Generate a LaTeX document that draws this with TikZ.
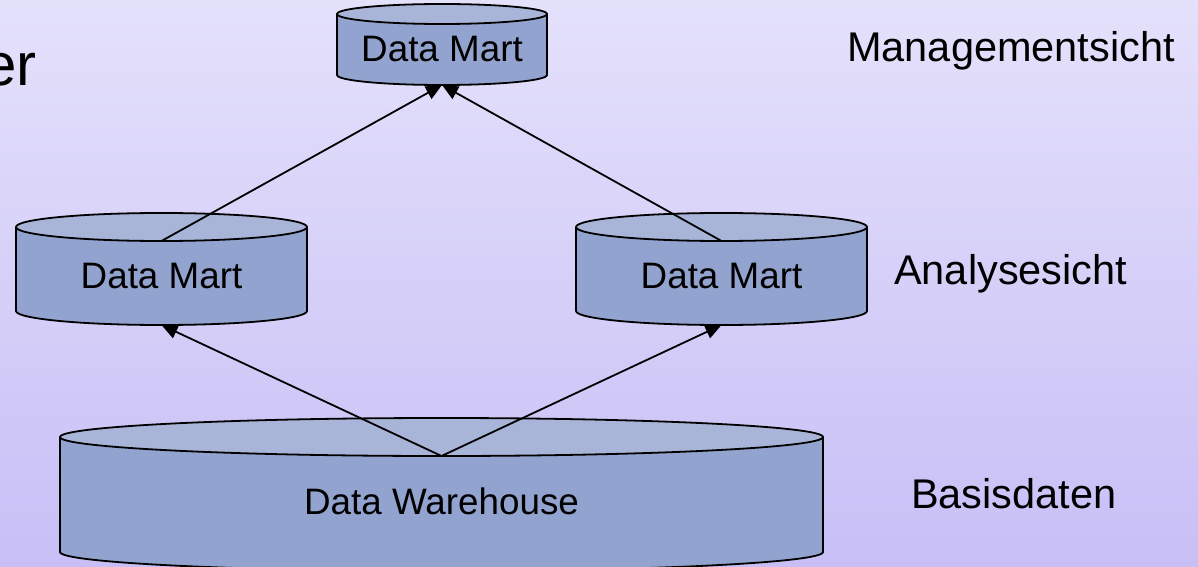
\documentclass[tikz,border=0pt]{standalone}
\usepackage{fontspec}
\setmainfont{Liberation Sans}
\usetikzlibrary{arrows.meta}
\definecolor{bgtop}{RGB}{228,225,251}
\definecolor{bgbot}{RGB}{200,191,246}
\definecolor{cylbody}{RGB}{147,163,207}
\definecolor{cyltop}{RGB}{169,181,216}
\tikzset{
  cylline/.style={draw=black, line width=1.8pt},
  conn/.style={draw=black, line width=1.8pt, -{Triangle[length=16pt,width=14pt]}},
  cyltext/.style={font=\fontsize{36.8}{40}\selectfont, anchor=base, inner sep=0pt},
  levellabel/.style={font=\fontsize{41.5}{45}\selectfont, anchor=base west, inner sep=0pt},
}
% #1 name, #2 cx, #3 y top-centre, #4 y bottom-centre, #5 rx, #6 ry
\newcommand\dbcyl[6]{%
  \fill[cylbody] ({#2-#5},#3) -- ({#2-#5},#4)
    arc[start angle=180, end angle=360, x radius=#5, y radius=#6] -- ({#2+#5},#3) -- cycle;
  \draw[cylline] ({#2-#5},#3) -- ({#2-#5},#4)
    arc[start angle=180, end angle=360, x radius=#5, y radius=#6] -- ({#2+#5},#3);
  \filldraw[cylline, fill=cyltop] (#2,#3) ellipse[x radius=#5, y radius=#6];
  \coordinate (#1-top) at (#2,{#3-#6});
  \coordinate (#1-bot) at (#2,{#4-#6});
}
\begin{document}
\begin{tikzpicture}[x=1pt,y=1pt]
\useasboundingbox (0,0) rectangle (1198,566);
\clip (0,0) rectangle (1198,566);
\shade[top color=bgtop, bottom color=bgbot] (0,0) rectangle (1198,566);

\node[font=\fontsize{60}{64}\selectfont, anchor=base east, inner sep=0pt] (title) at (37,480) {er};

\dbcyl{wh}{441.5}{129}{14}{381.5}{19}
\dbcyl{dml}{161.5}{339}{255}{145.5}{14}
\dbcyl{dmr}{721.5}{339}{255}{145.5}{14}
\dbcyl{dmt}{442}{552}{491}{105}{10}

\node[cyltext] (whtext) at (441.5,52) {Data Warehouse};
\node[cyltext] (dmltext) at (161.5,278) {Data Mart};
\node[cyltext] (dmrtext) at (721.5,278) {Data Mart};
\node[cyltext] (dmttext) at (442,504) {Data Mart};

\node[levellabel] (lmgmt) at (847,504) {Managementsicht};
\node[levellabel] (lana) at (894,282) {Analysesicht};
\node[levellabel] (lbasis) at (911,58) {Basisdaten};

\draw[conn] (dml-top) -- (dmt-bot);
\draw[conn] (dmr-top) -- (dmt-bot);
\draw[conn] (wh-top) -- (dml-bot);
\draw[conn] (wh-top) -- (dmr-bot);
\end{tikzpicture}
\end{document}
